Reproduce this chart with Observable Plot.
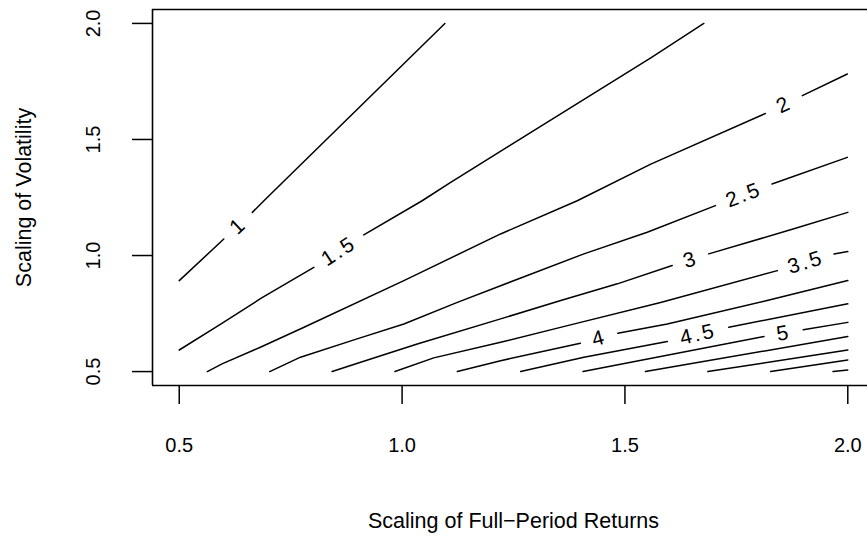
<!DOCTYPE html>
<html>
<head>
<meta charset="utf-8">
<script src="https://cdn.jsdelivr.net/npm/d3@7"></script>
<script src="https://cdn.jsdelivr.net/npm/@observablehq/plot@0.6"></script>
<style>
  html, body { margin: 0; padding: 0; background: #fff; overflow: hidden; }
  #chart svg { display: block; }
  #chart svg g.contour-labels text { letter-spacing: 2.5px; }
</style>
</head>
<body>
<div id="chart"></div>
<script>
// Contour levels and the traced iso-lines: [return scaling, volatility scaling].
// A null vertex marks where the line is broken for its level label.
const levels = [1, 1.5, 2, 2.5, 3, 3.5, 4, 4.5, 5, 5.5, 6, 6.5, 7];
const contour1   = [[0.5, 0.892], [0.600, 1.071], null, [0.664, 1.186], [0.690, 1.236], [1.096, 2.0]];
const contour1_5 = [[0.5, 0.593], [0.593, 0.704], [0.683, 0.815], [0.802, 0.949], null, [0.914, 1.089], [1.045, 1.236], [1.109, 1.315], [1.558, 1.852], [1.677, 2.0]];
const contour2   = [[0.563, 0.5], [0.596, 0.533], [0.682, 0.605], [0.780, 0.691], [1.004, 0.892], [1.221, 1.093], [1.393, 1.236], [1.558, 1.394], [1.815, 1.612], null, [1.898, 1.689], [1.999, 1.782]];
const contour2_5 = [[0.703, 0.5], [0.772, 0.562], [0.899, 0.641], [1.004, 0.705], [1.124, 0.798], [1.221, 0.870], [1.408, 1.007], [1.550, 1.100], [1.703, 1.215], null, [1.830, 1.308], [1.999, 1.423]];
const contour3   = [[0.843, 0.5], [0.907, 0.540], [1.034, 0.619], [1.221, 0.727], [1.356, 0.806], [1.483, 0.878], [1.606, 0.957], null, [1.688, 1.007], [1.879, 1.115], [2.0, 1.186]];
const contour3_5 = [[0.984, 0.5], [1.071, 0.559], [1.221, 0.626], [1.371, 0.698], [1.580, 0.798], [1.842, 0.935], null, [1.969, 1.007], [2.0, 1.017]];
const contour4   = [[1.124, 0.5], [1.221, 0.547], [1.400, 0.622], null, [1.484, 0.665], [1.595, 0.705], [1.819, 0.806], [2.0, 0.892]];
const contour4_5 = [[1.266, 0.5], [1.408, 0.562], [1.595, 0.630], null, [1.733, 0.691], [2.0, 0.792]];
const contour5   = [[1.406, 0.5], [1.812, 0.651], null, [1.900, 0.680], [2.0, 0.712]];
const contour5_5 = [[1.546, 0.5], [2.0, 0.651]];
const contour6   = [[1.686, 0.5], [2.0, 0.593]];
const contour6_5 = [[1.827, 0.5], [2.0, 0.550]];
const contour7   = [[1.967, 0.5], [2.0, 0.507]];
const contours = [contour1, contour1_5, contour2, contour2_5, contour3, contour3_5, contour4,
                  contour4_5, contour5, contour5_5, contour6, contour6_5, contour7];

const xTicks = [0.5, 1.0, 1.5, 2.0];
const yTicks = [0.5, 1.0, 1.5, 2.0];
const xLabel = "Scaling of Full\u2212Period Returns";
const yLabel = "Scaling of Volatility";

// Geometry: R-style 4% padding around the 0.5–2.0 grid; the box runs past the right page edge.
const W = 867, H = 537;
const mLeft = 152, mTop = 9, mBottom = 152, mRight = 0;
const yDomain = [0.44, 2.06];
const pxPerUnitX = 445.7;
const xDomain = [0.44, 0.44 + (W - mLeft - mRight) / pxPerUnitX];
const xs = d3.scaleLinear(xDomain, [mLeft, W - mRight]);
const ys = d3.scaleLinear(yDomain, [H - mBottom, mTop]);

// Flatten contours into rows; NaN entries break the line at the label gaps.
const rows = [];
const labels = [];
contours.forEach((path, k) => {
  const level = levels[k];
  path.forEach((p, i) => {
    if (p === null) {
      rows.push({level, r: NaN, v: NaN});
      const a = path[i - 1], b = path[i + 1];
      const dx = xs(b[0]) - xs(a[0]), dy = ys(b[1]) - ys(a[1]);
      labels.push({
        level,
        r: (a[0] + b[0]) / 2,
        v: (a[1] + b[1]) / 2,
        angle: Math.atan2(dy, dx) * 180 / Math.PI
      });
    } else {
      rows.push({level, r: p[0], v: p[1]});
    }
  });
});

const font = "'Liberation Sans', Arial, Helvetica, sans-serif";
const mid = ticks => (ticks[0] + ticks[ticks.length - 1]) / 2;

const chart = Plot.plot({
  width: W,
  height: H,
  marginLeft: mLeft,
  marginRight: mRight,
  marginTop: mTop,
  marginBottom: mBottom,
  style: {fontFamily: font, background: "#fff", color: "#000"},
  x: {domain: xDomain, axis: null},
  y: {domain: yDomain, axis: null},
  marks: [
    // contour lines
    Plot.line(rows, {x: "r", y: "v", z: "level", stroke: "#000", strokeWidth: 1.5, curve: "linear"}),
    // level labels, rotated along the line
    Plot.text(labels, {
      x: "r", y: "v", text: d => String(d.level), rotate: "angle",
      fontSize: 21, fill: "#000", textAnchor: "middle", lineAnchor: "middle",
      className: "contour-labels"
    }),
    // plot box (left, bottom, top)
    Plot.ruleX([xDomain[0]], {stroke: "#000", strokeWidth: 1.6}),
    Plot.ruleY([yDomain[0], yDomain[1]], {stroke: "#000", strokeWidth: 1.6}),
    // x axis
    Plot.axisX(xTicks, {
      anchor: "bottom", label: null, tickSize: 19, tickPadding: 33, strokeWidth: 1.5,
      tickFormat: d => d.toFixed(1), fontSize: 20, fill: "#000"
    }),
    // y axis ticks and rotated labels
    Plot.axisY(yTicks, {anchor: "left", label: null, tickSize: 20, strokeWidth: 1.5, tickFormat: () => ""}),
    Plot.text(yTicks, {
      y: d => d, text: d => d.toFixed(1), frameAnchor: "left", dx: -59,
      rotate: -90, fontSize: 20, fill: "#000", textAnchor: "middle", lineAnchor: "middle"
    }),
    // axis titles
    Plot.text([xLabel], {
      x: () => mid(xTicks), frameAnchor: "bottom",
      dy: 136, fontSize: 21.5, fill: "#000", textAnchor: "middle", lineAnchor: "middle"
    }),
    Plot.text([yLabel], {
      y: () => mid(yTicks), frameAnchor: "left",
      dx: -128, rotate: -90, fontSize: 21.5, fill: "#000", textAnchor: "middle", lineAnchor: "middle"
    })
  ]
});

document.getElementById("chart").appendChild(chart);
</script>
</body>
</html>
